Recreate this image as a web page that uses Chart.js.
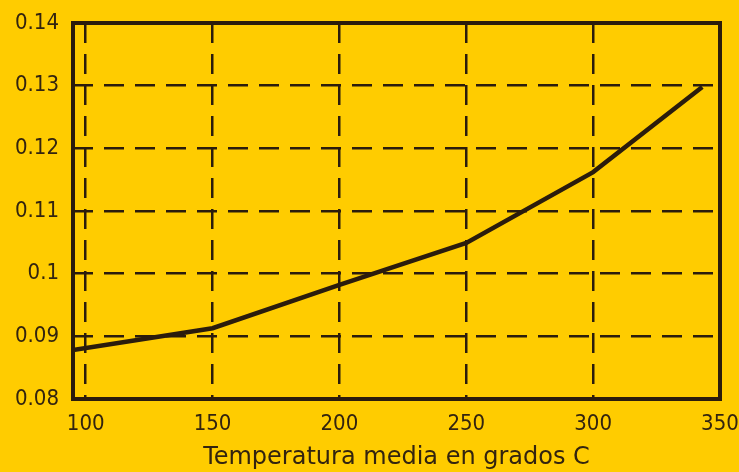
<!DOCTYPE html>
<html>
<head>
<meta charset="utf-8">
<script src="https://cdn.jsdelivr.net/npm/chart.js@4/dist/chart.umd.min.js"></script>
<style>
  html, body { margin: 0; padding: 0; background: #FFCC00; }
  #wrap { width: 739px; height: 472px; position: relative; }
</style>
</head>
<body>
<div id="wrap"><canvas id="c"></canvas></div>
<script>
// Data
const temperatures = [95, 150, 200, 250, 300, 343];
const values = [0.0878, 0.0913, 0.0982, 0.1049, 0.1162, 0.1298];
const xTickValues = [100, 150, 200, 250, 300, 350];
const yTickLabels = ['0.08', '0.09', '0.1', '0.11', '0.12', '0.13', '0.14'];
const xAxisTitle = 'Temperatura media en grados C';

const ink = '#2b1c0c';
const textInk = '#33240f';
const tickFont = { family: "'DejaVu Sans Condensed', 'DejaVu Sans'", size: 22 };

const frame = {
  id: 'frame',
  afterDatasetsDraw(chart) {
    const a = chart.chartArea, ctx = chart.ctx;
    ctx.save();
    ctx.strokeStyle = ink;
    ctx.lineWidth = 4;
    ctx.strokeRect(a.left, a.top, a.right - a.left, a.bottom - a.top);
    ctx.restore();
  }
};

new Chart(document.getElementById('c'), {
  type: 'line',
  data: {
    datasets: [{
      data: temperatures.map((t, i) => ({ x: t, y: values[i] })),
      borderColor: ink,
      borderWidth: 4.5,
      pointRadius: 0,
      tension: 0,
      fill: false
    }]
  },
  options: {
    responsive: true,
    maintainAspectRatio: false,
    animation: false,
    layout: { padding: { top: 23, right: 19, left: 0, bottom: 0 } },
    plugins: { legend: { display: false }, tooltip: { enabled: false } },
    scales: {
      x: {
        type: 'linear',
        min: 95,
        max: 350,
        afterBuildTicks(scale) { scale.ticks = xTickValues.map(v => ({ value: v })); },
        afterFit(scale) { scale.height = 73; scale.paddingLeft = 0; scale.paddingRight = 0; },
        border: { display: false, dash: [20, 11] },
        grid: { color: ink, lineWidth: 2.5, drawTicks: false },
        ticks: {
          color: textInk,
          font: tickFont,
          padding: 12,
          maxRotation: 0,
          autoSkip: false
        },
        title: {
          display: true,
          text: xAxisTitle,
          color: textInk,
          font: { family: 'DejaVu Sans', size: 24 },
          padding: { top: 2, bottom: 0 }
        }
      },
      y: {
        min: 0.08,
        max: 0.14,
        afterBuildTicks(scale) { scale.ticks = yTickLabels.map(s => ({ value: parseFloat(s) })); },
        afterFit(scale) { scale.width = 73; scale.paddingTop = 0; scale.paddingBottom = 0; },
        border: { display: false, dash: [20, 11] },
        grid: { color: ink, lineWidth: 2.5, drawTicks: false },
        ticks: {
          color: textInk,
          font: tickFont,
          padding: 14,
          callback: (v, i) => yTickLabels[i]
        }
      }
    }
  },
  plugins: [frame]
});
</script>
</body>
</html>
